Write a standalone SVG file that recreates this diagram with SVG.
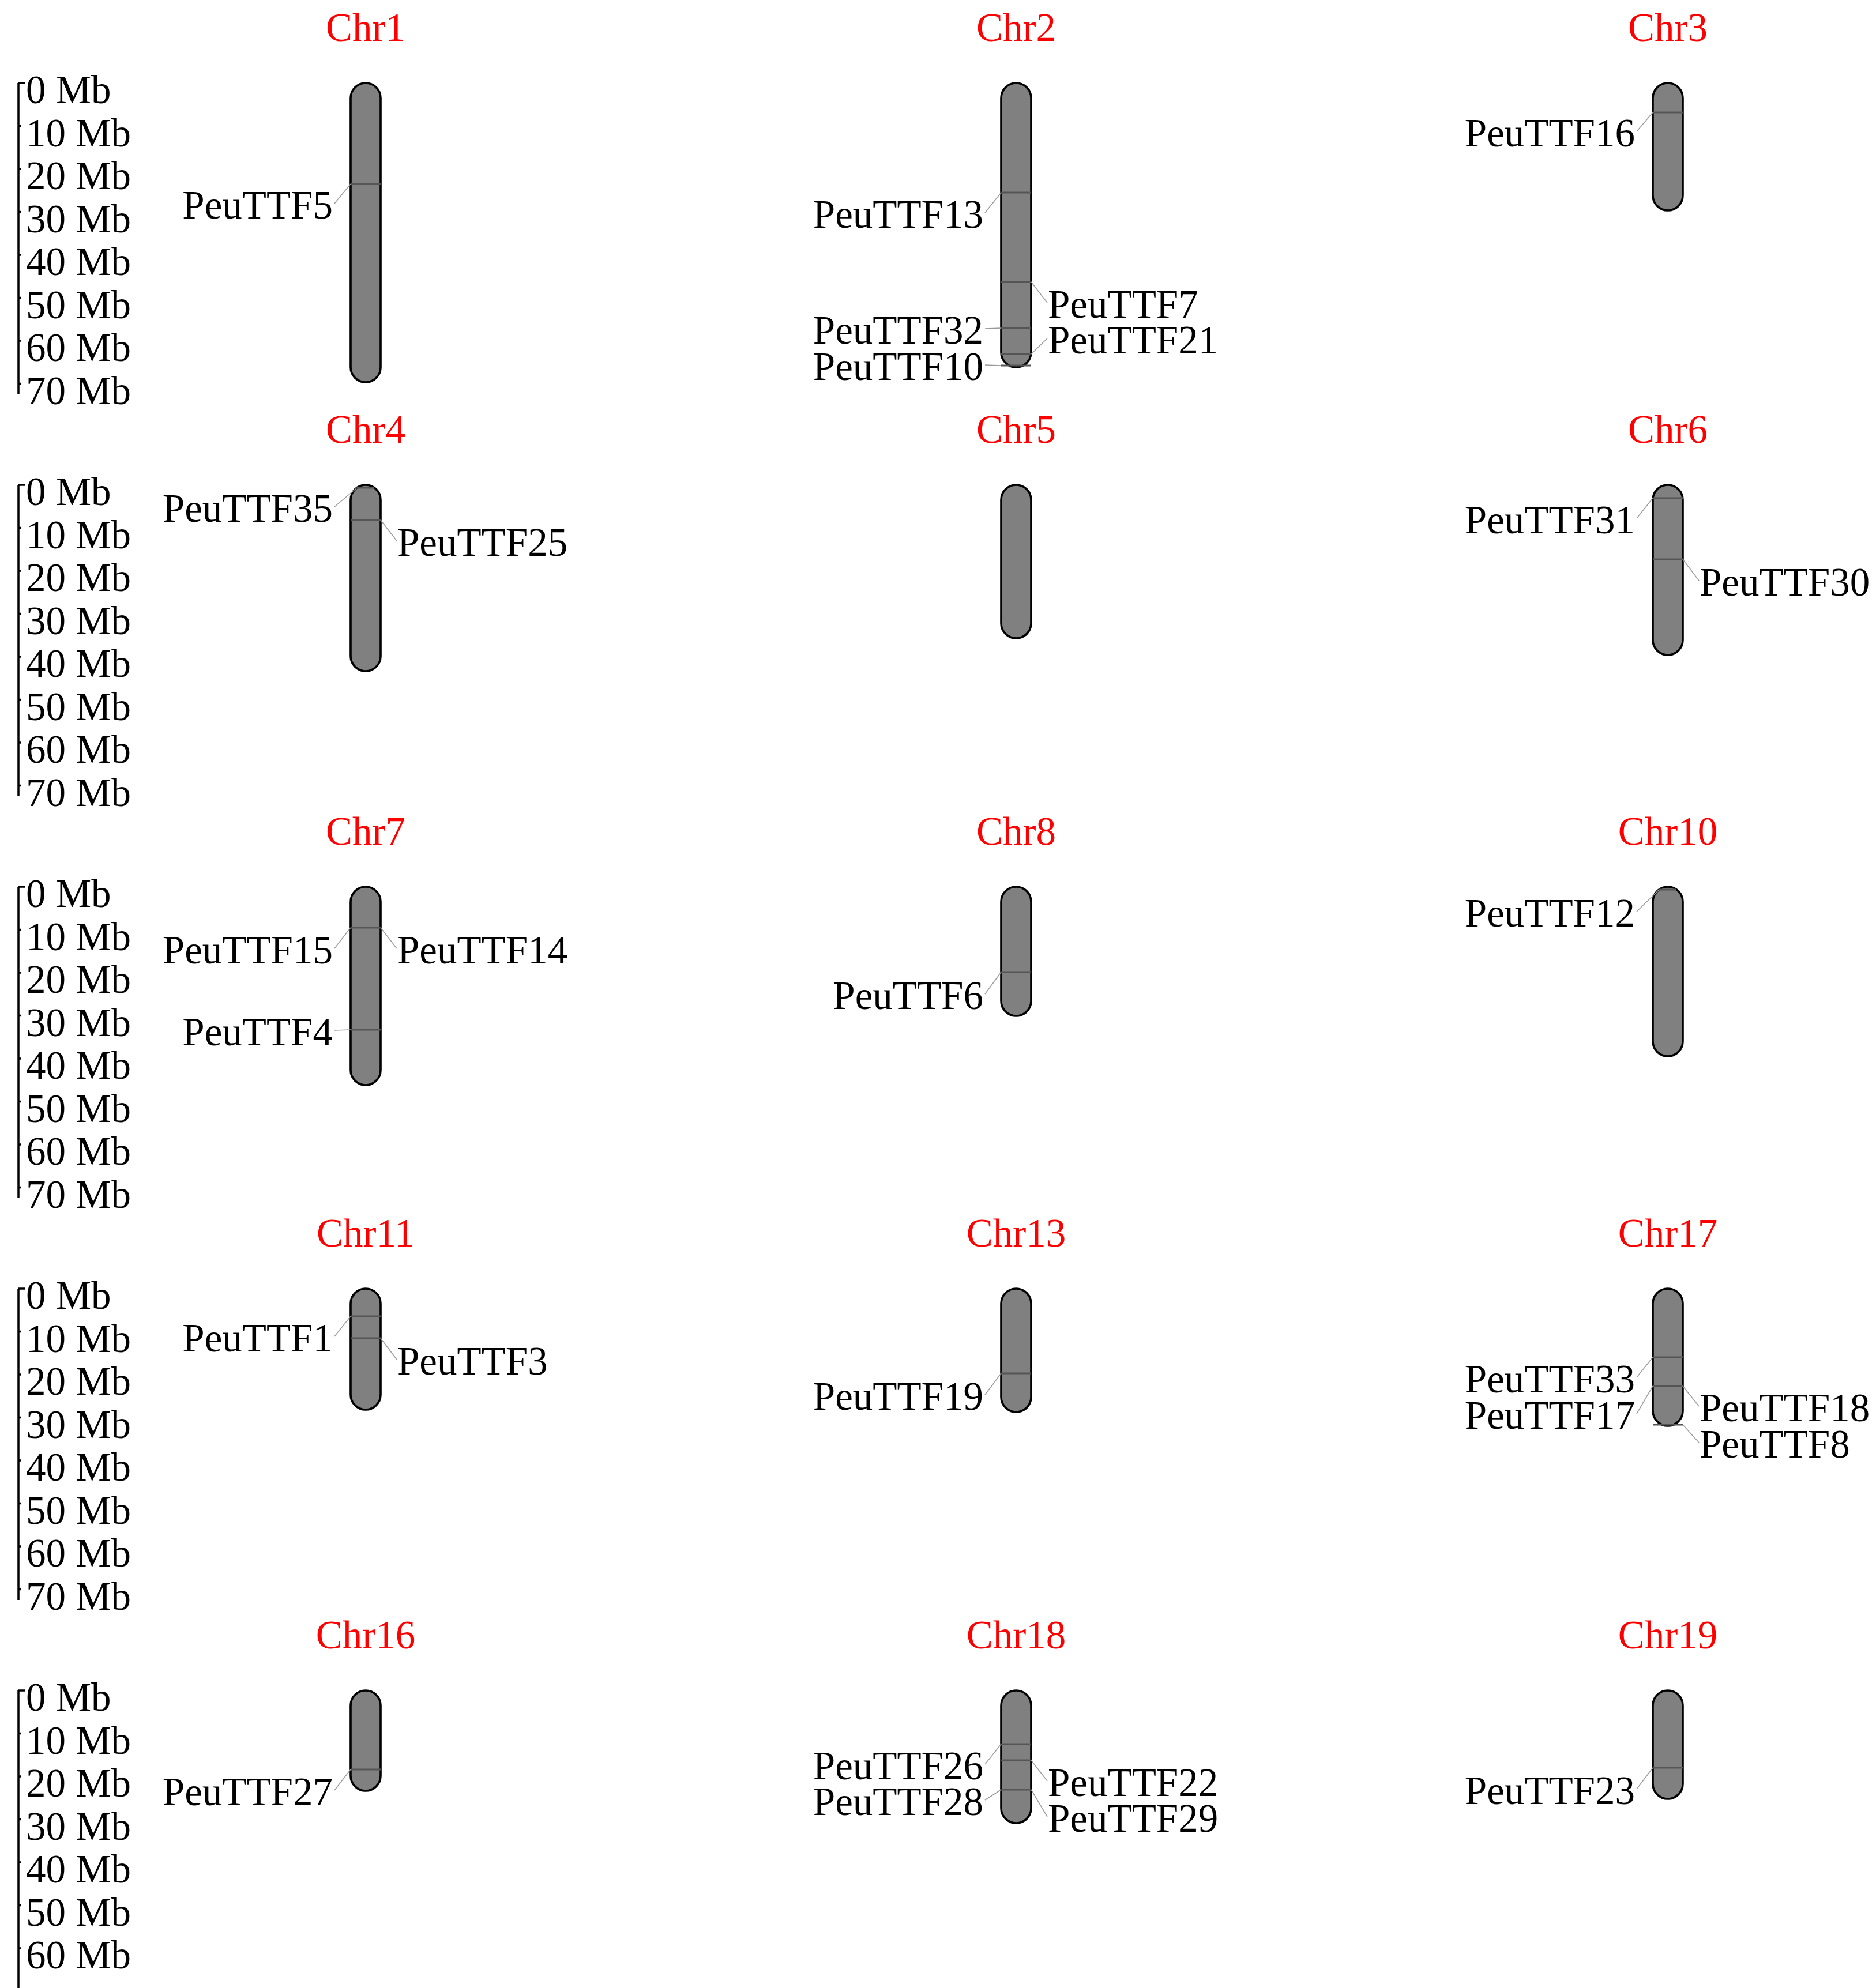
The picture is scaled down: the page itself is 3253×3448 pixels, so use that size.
<svg xmlns="http://www.w3.org/2000/svg" width="3253" height="3448" viewBox="0 0 3253 3448">
<style>
.chr{fill:#808080;stroke:#000;stroke-width:3.6}
.mk{stroke:#555;stroke-width:3}
.ld{stroke:#9a9a9a;stroke-width:1.5;fill:none}
.t{font-family:"Liberation Serif","Times New Roman",serif;font-size:69px;fill:#000}
.e{text-anchor:end}
.ttl{font-family:"Liberation Serif","Times New Roman",serif;font-size:69px;fill:#ff0000;text-anchor:middle}
.sb{stroke:#000;stroke-width:3.5;fill:none}
</style>
<rect width="3253" height="3448" fill="#fff"/>
<defs>
<g id="scale7">
<path class="sb" d="M32,0 V540 M32,0 H44 M32,74.5 H37 M32,149 H37 M32,223.5 H37 M32,298 H37 M32,372.5 H37 M32,447 H37 M32,521.5 H37"/>
<text class="t" x="45" y="35">0 Mb</text>
<text class="t" x="45" y="109.5">10 Mb</text>
<text class="t" x="45" y="184">20 Mb</text>
<text class="t" x="45" y="258.5">30 Mb</text>
<text class="t" x="45" y="333">40 Mb</text>
<text class="t" x="45" y="407.5">50 Mb</text>
<text class="t" x="45" y="482">60 Mb</text>
<text class="t" x="45" y="556.5">70 Mb</text>
</g>
</defs>
<g id="scalebars">
<use href="#scale7" transform="translate(0,144)"/>
<use href="#scale7" transform="translate(0,841)"/>
<use href="#scale7" transform="translate(0,1538)"/>
<use href="#scale7" transform="translate(0,2235)"/>
<g transform="translate(0,2932)">
<path class="sb" d="M32,0 V516 M32,0 H44 M32,74.5 H37 M32,149 H37 M32,223.5 H37 M32,298 H37 M32,372.5 H37 M32,447 H37"/>
<text class="t" x="45" y="35">0 Mb</text>
<text class="t" x="45" y="109.5">10 Mb</text>
<text class="t" x="45" y="184">20 Mb</text>
<text class="t" x="45" y="258.5">30 Mb</text>
<text class="t" x="45" y="333">40 Mb</text>
<text class="t" x="45" y="407.5">50 Mb</text>
<text class="t" x="45" y="482">60 Mb</text>
</g>
</g>

<g id="Chr1">
<text class="ttl" x="634" y="71">Chr1</text>
<rect class="chr" x="608" y="144" width="52" height="519" rx="26"/>
<line class="mk" x1="608" y1="319" x2="660" y2="319"/>
<text class="t e" x="577" y="379">PeuTTF5</text>
</g>
<g id="Chr2">
<text class="ttl" x="1762" y="71">Chr2</text>
<rect class="chr" x="1736" y="144" width="52" height="493" rx="26"/>
<line class="mk" x1="1736" y1="334" x2="1788" y2="334"/>
<line class="mk" x1="1736" y1="489" x2="1788" y2="489"/>
<line class="mk" x1="1736" y1="569" x2="1788" y2="569"/>
<line class="mk" x1="1736" y1="614" x2="1788" y2="614"/>
<line class="mk" x1="1736" y1="634" x2="1788" y2="634"/>
<text class="t e" x="1705" y="395">PeuTTF13</text>
<text class="t" x="1817" y="551">PeuTTF7</text>
<text class="t e" x="1705" y="596">PeuTTF32</text>
<text class="t" x="1817" y="613">PeuTTF21</text>
<text class="t e" x="1705" y="659">PeuTTF10</text>
</g>
<g id="Chr3">
<text class="ttl" x="2892" y="71">Chr3</text>
<rect class="chr" x="2866" y="144" width="52" height="221" rx="26"/>
<line class="mk" x1="2866" y1="195" x2="2918" y2="195"/>
<text class="t e" x="2835" y="254">PeuTTF16</text>
</g>

<g id="Chr4">
<text class="ttl" x="634" y="768">Chr4</text>
<rect class="chr" x="608" y="841" width="52" height="323" rx="26"/>
<line class="mk" x1="619" y1="846" x2="649" y2="846"/>
<line class="mk" x1="608" y1="902" x2="660" y2="902"/>
<text class="t e" x="577" y="905">PeuTTF35</text>
<text class="t" x="689" y="964">PeuTTF25</text>
</g>
<g id="Chr5">
<text class="ttl" x="1762" y="768">Chr5</text>
<rect class="chr" x="1736" y="841" width="52" height="266" rx="26"/>
</g>
<g id="Chr6">
<text class="ttl" x="2892" y="768">Chr6</text>
<rect class="chr" x="2866" y="841" width="52" height="295" rx="26"/>
<line class="mk" x1="2866" y1="864" x2="2918" y2="864"/>
<line class="mk" x1="2866" y1="970" x2="2918" y2="970"/>
<text class="t e" x="2835" y="925">PeuTTF31</text>
<text class="t" x="2947" y="1033">PeuTTF30</text>
</g>

<g id="Chr7">
<text class="ttl" x="634" y="1465">Chr7</text>
<rect class="chr" x="608" y="1538" width="52" height="344" rx="26"/>
<line class="mk" x1="608" y1="1609" x2="660" y2="1609"/>
<line class="mk" x1="608" y1="1786" x2="660" y2="1786"/>
<text class="t e" x="577" y="1671">PeuTTF15</text>
<text class="t" x="689" y="1671">PeuTTF14</text>
<text class="t e" x="577" y="1813">PeuTTF4</text>
</g>
<g id="Chr8">
<text class="ttl" x="1762" y="1465">Chr8</text>
<rect class="chr" x="1736" y="1538" width="52" height="224" rx="26"/>
<line class="mk" x1="1736" y1="1686" x2="1788" y2="1686"/>
<text class="t e" x="1705" y="1750">PeuTTF6</text>
</g>
<g id="Chr10">
<text class="ttl" x="2892" y="1465">Chr10</text>
<rect class="chr" x="2866" y="1538" width="52" height="294" rx="26"/>
<line class="mk" x1="2877" y1="1543" x2="2907" y2="1543"/>
<text class="t e" x="2835" y="1607">PeuTTF12</text>
</g>

<g id="Chr11">
<text class="ttl" x="634" y="2162">Chr11</text>
<rect class="chr" x="608" y="2235" width="52" height="210" rx="26"/>
<line class="mk" x1="608" y1="2283" x2="660" y2="2283"/>
<line class="mk" x1="608" y1="2321" x2="660" y2="2321"/>
<text class="t e" x="577" y="2344">PeuTTF1</text>
<text class="t" x="689" y="2384">PeuTTF3</text>
</g>
<g id="Chr13">
<text class="ttl" x="1762" y="2162">Chr13</text>
<rect class="chr" x="1736" y="2235" width="52" height="214" rx="26"/>
<line class="mk" x1="1736" y1="2382" x2="1788" y2="2382"/>
<text class="t e" x="1705" y="2445">PeuTTF19</text>
</g>
<g id="Chr17">
<text class="ttl" x="2892" y="2162">Chr17</text>
<rect class="chr" x="2866" y="2235" width="52" height="238" rx="26"/>
<line class="mk" x1="2866" y1="2354" x2="2918" y2="2354"/>
<line class="mk" x1="2866" y1="2404" x2="2918" y2="2404"/>
<line class="mk" x1="2866" y1="2471" x2="2918" y2="2471"/>
<text class="t e" x="2835" y="2415">PeuTTF33</text>
<text class="t e" x="2835" y="2478">PeuTTF17</text>
<text class="t" x="2947" y="2465">PeuTTF18</text>
<text class="t" x="2947" y="2528">PeuTTF8</text>
</g>

<g id="Chr16">
<text class="ttl" x="634" y="2859">Chr16</text>
<rect class="chr" x="608" y="2932" width="52" height="174" rx="26"/>
<line class="mk" x1="608" y1="3069" x2="660" y2="3069"/>
<text class="t e" x="577" y="3131">PeuTTF27</text>
</g>
<g id="Chr18">
<text class="ttl" x="1762" y="2859">Chr18</text>
<rect class="chr" x="1736" y="2932" width="52" height="230" rx="26"/>
<line class="mk" x1="1736" y1="3025" x2="1788" y2="3025"/>
<line class="mk" x1="1736" y1="3053" x2="1788" y2="3053"/>
<line class="mk" x1="1736" y1="3104" x2="1788" y2="3104"/>
<text class="t e" x="1705" y="3086">PeuTTF26</text>
<text class="t" x="1817" y="3115">PeuTTF22</text>
<text class="t e" x="1705" y="3148">PeuTTF28</text>
<text class="t" x="1817" y="3177">PeuTTF29</text>
</g>
<g id="Chr19">
<text class="ttl" x="2892" y="2859">Chr19</text>
<rect class="chr" x="2866" y="2932" width="52" height="188" rx="26"/>
<line class="mk" x1="2866" y1="3066" x2="2918" y2="3066"/>
<text class="t e" x="2835" y="3129">PeuTTF23</text>
</g>

<g id="connectors">
<path class="ld" d="M608,319 L580,353"/>
<path class="ld" d="M1736,334 L1708,369 M1788,489 L1816,525 M1736,569 L1708,570 M1788,614 L1816,587 M1736,634 L1708,633"/>
<path class="ld" d="M2866,195 L2838,228"/>
<path class="ld" d="M619,846 L580,879 M660,902 L688,938"/>
<path class="ld" d="M2866,864 L2838,899 M2918,970 L2946,1007"/>
<path class="ld" d="M608,1609 L580,1645 M660,1609 L688,1645 M608,1786 L580,1787"/>
<path class="ld" d="M1736,1686 L1708,1724"/>
<path class="ld" d="M2877,1543 L2838,1581"/>
<path class="ld" d="M608,2283 L580,2318 M660,2321 L688,2358"/>
<path class="ld" d="M1736,2382 L1708,2419"/>
<path class="ld" d="M2866,2354 L2838,2389 M2866,2404 L2838,2452 M2918,2404 L2946,2439 M2918,2471 L2946,2502"/>
<path class="ld" d="M608,3069 L580,3105"/>
<path class="ld" d="M1736,3025 L1708,3060 M1788,3053 L1816,3089 M1736,3104 L1708,3122 M1788,3104 L1816,3151"/>
<path class="ld" d="M2866,3066 L2838,3103"/>
</g>
</svg>
